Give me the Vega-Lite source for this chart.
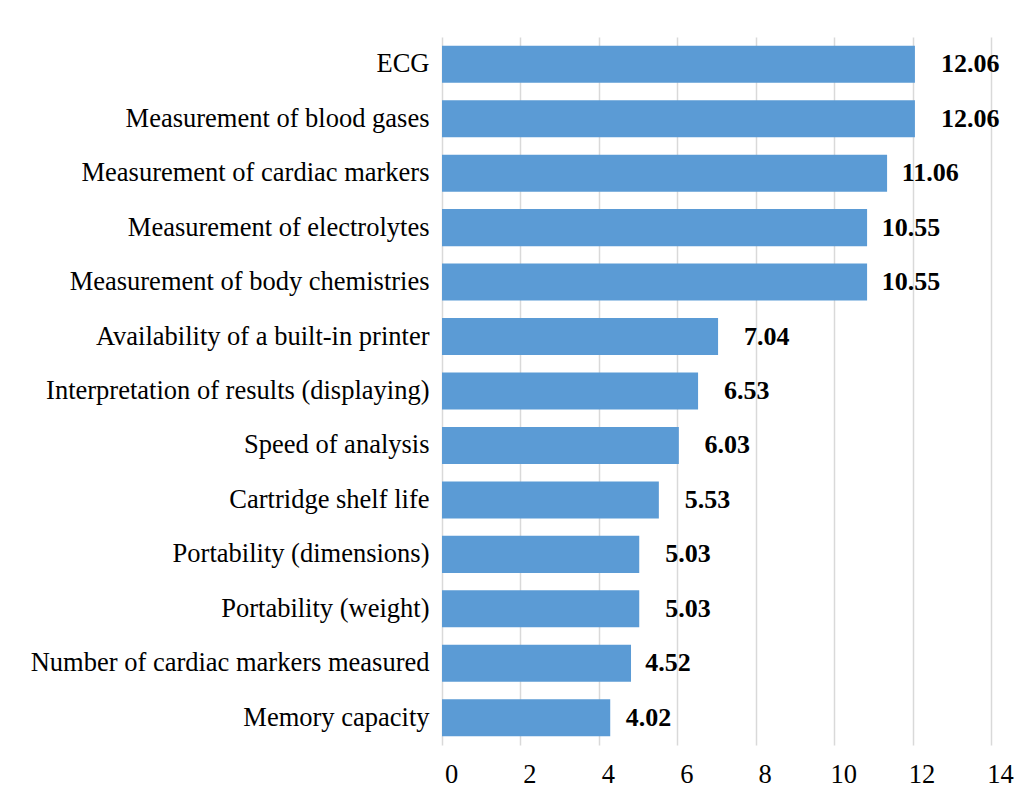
{
  "$schema": "https://vega.github.io/schema/vega-lite/v6.json",
  "autosize": "none",
  "padding": {"left": 442, "top": 37, "right": 37, "bottom": 59},
  "width": 549,
  "height": 708,
  "background": "white",
  "config": {"view": {"stroke": null}},
  "data": {
    "values": [
      {"feature": "ECG", "bar": 12.06, "value": 12.06},
      {"feature": "Measurement of blood gases", "bar": 12.06, "value": 12.06},
      {"feature": "Measurement of cardiac markers", "bar": 11.35, "value": 11.06},
      {"feature": "Measurement of electrolytes", "bar": 10.84, "value": 10.55},
      {"feature": "Measurement of body chemistries", "bar": 10.84, "value": 10.55},
      {"feature": "Availability of a built-in printer", "bar": 7.04, "value": 7.04},
      {"feature": "Interpretation of results (displaying)", "bar": 6.53, "value": 6.53},
      {"feature": "Speed of analysis", "bar": 6.04, "value": 6.03},
      {"feature": "Cartridge shelf life", "bar": 5.53, "value": 5.53},
      {"feature": "Portability (dimensions)", "bar": 5.03, "value": 5.03},
      {"feature": "Portability (weight)", "bar": 5.03, "value": 5.03},
      {"feature": "Number of cardiac markers measured", "bar": 4.82, "value": 4.52},
      {"feature": "Memory capacity", "bar": 4.29, "value": 4.02}
    ]
  },
  "encoding": {
    "y": {
      "field": "feature",
      "type": "nominal",
      "sort": null,
      "scale": {"paddingInner": 0.32, "paddingOuter": 0.16},
      "axis": {
        "title": null,
        "domain": false,
        "ticks": false,
        "grid": false,
        "labelPadding": 13,
        "labelFont": "Liberation Serif",
        "labelFontSize": 26.5,
        "labelColor": "#000000",
        "labelLimit": 500
      }
    }
  },
  "layer": [
    {
      "mark": {"type": "bar", "color": "#5B9BD5"},
      "encoding": {
        "x": {
          "field": "bar",
          "type": "quantitative",
          "scale": {"domain": [0, 14], "nice": false},
          "axis": {
            "title": null,
            "values": [0, 2, 4, 6, 8, 10, 12, 14],
            "domain": false,
            "ticks": false,
            "grid": true,
            "gridColor": "#d9d9d9",
            "gridWidth": 1.5,
            "labelPadding": 16,
            "labelOffset": 9,
            "labelFont": "Liberation Serif",
            "labelFontSize": 26.5,
            "labelColor": "#000000",
            "labelFlush": false,
            "labelOverlap": false
          }
        }
      }
    },
    {
      "mark": {
        "type": "text",
        "align": "left",
        "baseline": "middle",
        "dx": 26,
        "font": "Liberation Serif",
        "fontSize": 26,
        "fontWeight": "bold",
        "color": "#000000"
      },
      "encoding": {
        "x": {"field": "value", "type": "quantitative"},
        "text": {"field": "value", "type": "quantitative", "format": ".2f"}
      }
    }
  ]
}
